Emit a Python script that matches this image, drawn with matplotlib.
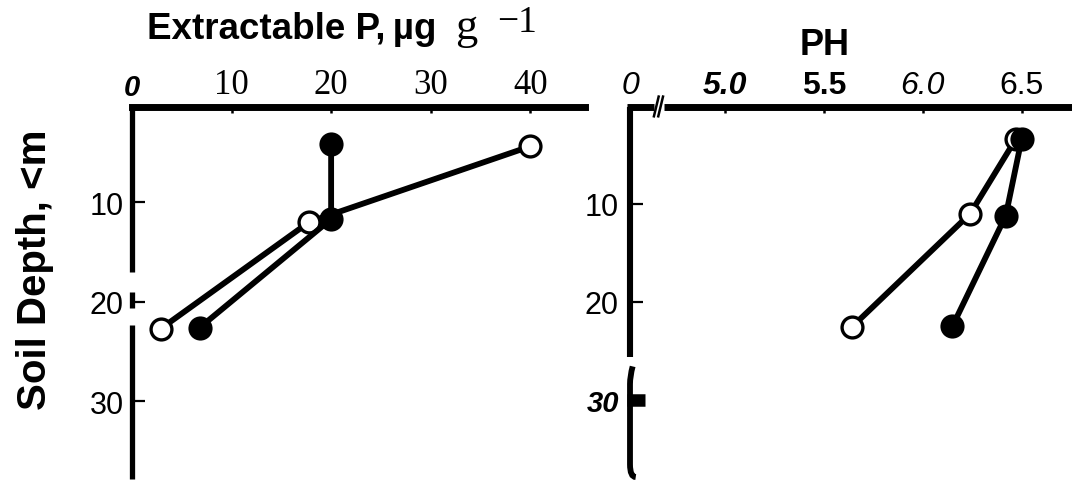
import matplotlib
matplotlib.use("Agg")
import matplotlib.pyplot as plt
from matplotlib.path import Path
from matplotlib.patches import PathPatch

# Extractable P (ug g-1) by soil depth (cm)
p_filled = [20.0, 20.0, 6.8]
p_open = [40.0, 17.8, 2.9]
depth_p_filled = [4.2, 11.7, 22.6]
depth_p_open = [4.4, 12.0, 22.7]

# Soil pH by soil depth (cm)
ph_open = [6.47, 6.24, 5.64]
ph_filled = [6.50, 6.42, 6.15]
depth_ph_open = [3.4, 11.0, 22.6]
depth_ph_filled = [3.4, 11.2, 22.5]

p_ticks = [0, 10, 20, 30, 40]
p_ticklabels = ["0", "10", "20", "30", "40"]
ph_ticks = [4.52, 5.0, 5.5, 6.0, 6.5]
ph_ticklabels = ["0", "5.0", "5.5", "6.0", "6.5"]
depth_ticks = [10, 20, 30]
depth_ticklabels = ["10", "20", "30"]

SANS = "Liberation Sans"
SERIF = "Liberation Serif"

W, H = 1072, 485
fig = plt.figure(figsize=(W / 100, H / 100), dpi=100)

top_px, bot_px = 108, 480
ax1 = fig.add_axes([132 / W, 1 - bot_px / H, (585 - 132) / W, (bot_px - top_px) / H])
ax2 = fig.add_axes([630 / W, 1 - bot_px / H, (W - 630) / W, (bot_px - top_px) / H])

LINE_W = 4.2
SPINE_W = 5.0
mk = dict(markersize=15, markeredgewidth=2.4, markeredgecolor="black")

# ---------- left panel: extractable P ----------
ax1.plot(p_open, depth_p_open, "-o", color="black", lw=LINE_W,
         markerfacecolor="white", zorder=3, **mk)
ax1.plot(p_filled, depth_p_filled, "-o", color="black", lw=LINE_W,
         markerfacecolor="black", zorder=4, **mk)
ax1.set_xlim(0.2, 45.5)
ax1.set_ylim(37.8, 0.45)

for s in ("left", "right", "bottom"):
    ax1.spines[s].set_visible(False)
ax1.spines["top"].set_linewidth(SPINE_W)

ax1.xaxis.tick_top()
ax1.set_xticks(p_ticks)
ax1.set_xticklabels(p_ticklabels)
ax1.tick_params(axis="x", direction="in", length=4.5, width=1.8, pad=4)
ax1.xaxis.get_major_ticks()[0].tick2line.set_visible(False)
for i, lbl in enumerate(ax1.get_xticklabels()):
    if i == 0:
        lbl.set_fontfamily(SANS)
        lbl.set_fontweight("bold")
        lbl.set_fontstyle("italic")
        lbl.set_fontsize(21)
    else:
        lbl.set_fontfamily(SERIF)
        lbl.set_fontsize(25)

ax1.set_yticks(depth_ticks)
ax1.set_yticklabels(depth_ticklabels)
ax1.tick_params(axis="y", direction="in", length=9, width=1.6, pad=6,
                labelsize=22)
for lbl in ax1.get_yticklabels():
    lbl.set_fontfamily(SANS)

# broken depth axis drawn as separate strokes
yt1 = ax1.get_yaxis_transform()
for y0, y1 in [(0.2, 17.0), (19.0, 20.6), (22.3, 37.8)]:
    ax1.plot([0, 0], [y0, y1], color="black", lw=3.8, solid_capstyle="butt",
             transform=yt1, clip_on=False)

# ---------- right panel: pH ----------
ax2.plot(ph_open, depth_ph_open, "-o", color="black", lw=LINE_W,
         markerfacecolor="white", zorder=3, **mk)
ax2.plot(ph_filled, depth_ph_filled, "-o", color="black", lw=LINE_W,
         markerfacecolor="black", zorder=4, **mk)
ax2.set_xlim(4.519, 6.755)
ax2.set_ylim(38.1, 0.1)
for s in ax2.spines.values():
    s.set_visible(False)

ax2.xaxis.tick_top()
ax2.set_xticks(ph_ticks)
ax2.set_xticklabels(ph_ticklabels)
ax2.tick_params(axis="x", direction="in", length=4.5, width=1.8, pad=5)
ax2.xaxis.get_major_ticks()[0].tick2line.set_visible(False)
styles = [("normal", "italic"), ("bold", "italic"), ("bold", "normal"),
          ("normal", "italic"), ("normal", "normal")]
for lbl, (wt, st) in zip(ax2.get_xticklabels(), styles):
    lbl.set_fontfamily(SANS)
    lbl.set_fontweight(wt)
    lbl.set_fontstyle(st)
    lbl.set_fontsize(23)

ax2.set_yticks(depth_ticks)
ax2.set_yticklabels(depth_ticklabels)
ax2.tick_params(axis="y", direction="in", length=9, width=1.6, pad=8,
                labelsize=22)
for lbl in ax2.get_yticklabels():
    lbl.set_fontfamily(SANS)
ylbls = ax2.get_yticklabels()
ylbls[2].set_fontweight("bold")
ylbls[2].set_fontstyle("italic")
ylbls[2].set_fontsize(21)
ax2.yaxis.get_major_ticks()[2].tick1line.set_visible(False)

xt2 = ax2.get_xaxis_transform()
yt2 = ax2.get_yaxis_transform()
# top axis with a break near the origin
ax2.plot([4.505, 4.640], [1, 1], color="black", lw=SPINE_W,
         solid_capstyle="butt", transform=xt2, clip_on=False)
ax2.plot([4.690, 6.755], [1, 1], color="black", lw=SPINE_W,
         solid_capstyle="butt", transform=xt2, clip_on=False)
for xs in (4.652, 4.674):
    ax2.plot([xs - 0.012, xs + 0.012], [0.975, 1.028], color="black", lw=1.8,
             transform=xt2, clip_on=False)
# depth axis: upper stroke and lower hooked stroke
ax2.plot([0, 0], [0.1, 25.6], color="black", lw=4.4, solid_capstyle="butt",
         transform=yt2, clip_on=False)
hook = Path([(0.006, 26.6), (0.0, 27.6), (0.0, 28.4), (0.0, 36.6),
             (0.0, 37.9), (0.013, 37.9)],
            [Path.MOVETO, Path.CURVE3, Path.LINETO, Path.LINETO,
             Path.CURVE3, Path.CURVE3])
ax2.add_patch(PathPatch(hook, facecolor="none", edgecolor="black", lw=4.2,
                        transform=yt2, clip_on=False))
ax2.plot([-0.006, 0.034], [30, 30], color="black", lw=9,
         solid_capstyle="butt", transform=yt2, clip_on=False)

# ---------- titles ----------
fig.text(147 / W, 1 - 39 / H, "Extractable P,\u2009\u00b5g", fontsize=26.5,
         fontweight="bold", family=SANS, va="baseline", ha="left")
fig.text(455 / W, 1 - 39 / H, "g", fontsize=32, family=SERIF,
         va="baseline", ha="left")
fig.text(497 / W, 1 - 32 / H, "\u22121", fontsize=27, family=SERIF,
         va="baseline", ha="left")
fig.text(825 / W, 1 - 55 / H, "PH", fontsize=26, fontweight="bold",
         family=SANS, va="baseline", ha="center")
fig.text(35 / W, 1 - 270 / H, "Soil Depth, <m", fontsize=29,
         fontweight="bold", family=SANS, rotation=90, va="center",
         ha="center")

fig.savefig("out.png", dpi=100)
